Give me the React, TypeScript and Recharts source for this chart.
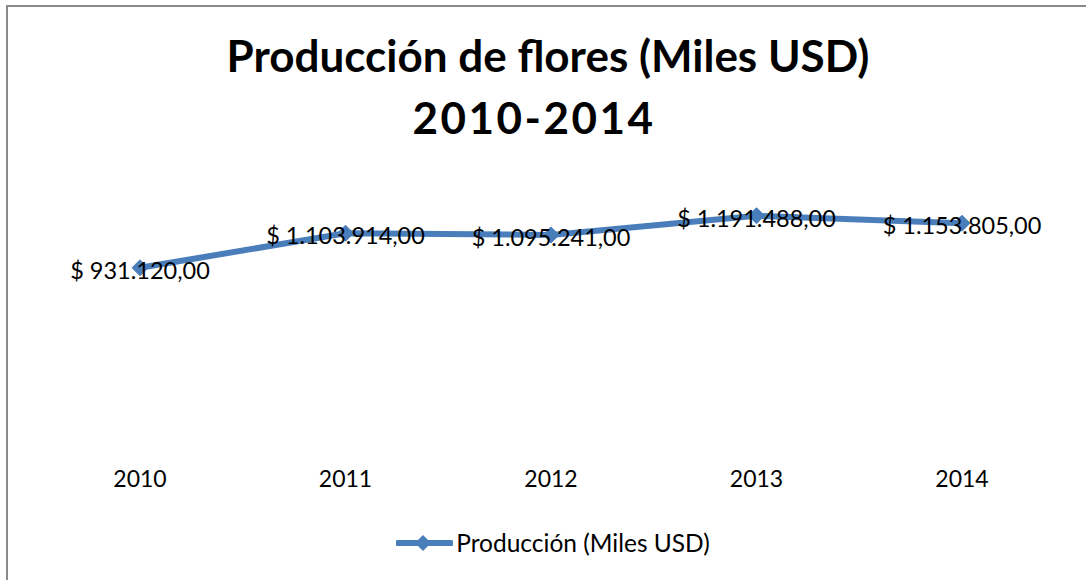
import { LineChart, Line, XAxis, YAxis, LabelList } from "recharts";

const years = ["2010", "2011", "2012", "2013", "2014"];
const produccion = [931120, 1103914, 1095241, 1191488, 1153805];
const seriesName = "Producción (Miles USD)";
const titleLines = ["Producción de flores (Miles USD)", "2010-2014"];

const data = years.map((year, i) => ({ year, value: produccion[i] }));

const BLUE = "#4A7EBB";
const FONT = "Lato, 'Open Sans', sans-serif";

const fmt = (v: number) => {
  const s = Math.round(v)
    .toString()
    .replace(/\B(?=(\d{3})+(?!\d))/g, ".");
  return `$ ${s},00`;
};

const Diamond = (props: any) => {
  const { cx, cy } = props;
  if (cx == null || cy == null) return null;
  const r = 8;
  return (
    <polygon
      points={`${cx},${cy - r} ${cx + r},${cy} ${cx},${cy + r} ${cx - r},${cy}`}
      fill={BLUE}
      stroke={BLUE}
    />
  );
};

const YearTick = (props: any) => {
  const { x, y, payload } = props;
  return (
    <text x={x} y={y + 33} textAnchor="middle" fontSize={23} fill="#000" fontFamily={FONT}>
      {payload.value}
    </text>
  );
};

const ValueLabel = (props: any) => {
  const { x, y, value } = props;
  return (
    <text
      x={x}
      y={y + 2}
      textAnchor="middle"
      dominantBaseline="central"
      fontSize={23.5}
      fill="#000"
      fontFamily={FONT}
    >
      {fmt(value)}
    </text>
  );
};

export default function App() {
  return (
    <div
      style={{
        position: "absolute",
        left: 0,
        top: 0,
        width: 1086,
        height: 580,
        overflow: "hidden",
        background: "#fff",
      }}
    >
      <div
        style={{
          position: "absolute",
          left: 6,
          top: 5,
          width: 1100,
          height: 600,
          border: "2px solid #8a8a8a",
        }}
      />
      <div
        style={{
          position: "absolute",
          left: 0,
          top: 24,
          width: 1096,
          textAlign: "center",
          fontFamily: FONT,
          fontWeight: 700,
          fontSize: 44,
          lineHeight: "62px",
          color: "#000",
        }}
      >
        <div>{titleLines[0]}</div>
        <div style={{ paddingRight: 28, letterSpacing: 2.5 }}>{titleLines[1]}</div>
      </div>
      <LineChart
        width={1086}
        height={580}
        data={data}
        margin={{ top: 174, bottom: 96, left: 140, right: 124 }}
        style={{ position: "absolute", left: 0, top: 0 }}
      >
        <XAxis
          dataKey="year"
          scale="point"
          height={30}
          padding={{ left: 0, right: 0 }}
          axisLine={false}
          tickLine={false}
          tickSize={0}
          tickMargin={0}
          tick={<YearTick />}
          interval={0}
        />
        <YAxis hide domain={[0, 1400000]} />
        <Line
          dataKey="value"
          name={seriesName}
          stroke={BLUE}
          strokeWidth={6}
          dot={<Diamond />}
          activeDot={false}
          isAnimationActive={false}
        >
          <LabelList dataKey="value" content={<ValueLabel />} />
        </Line>
      </LineChart>
      <div
        style={{
          position: "absolute",
          left: 0,
          top: 528,
          width: 1086,
          paddingLeft: 20,
          boxSizing: "border-box",
          display: "flex",
          justifyContent: "center",
          alignItems: "center",
        }}
      >
        <svg width={57} height={20} style={{ marginRight: 3 }}>
          <line x1={2} y1={10} x2={55} y2={10} stroke={BLUE} strokeWidth={6} strokeLinecap="round" />
          <polygon points="27,2 35,10 27,18 19,10" fill={BLUE} />
        </svg>
        <span style={{ fontSize: 24.5, fontFamily: FONT, color: "#000" }}>{seriesName}</span>
      </div>
    </div>
  );
}
